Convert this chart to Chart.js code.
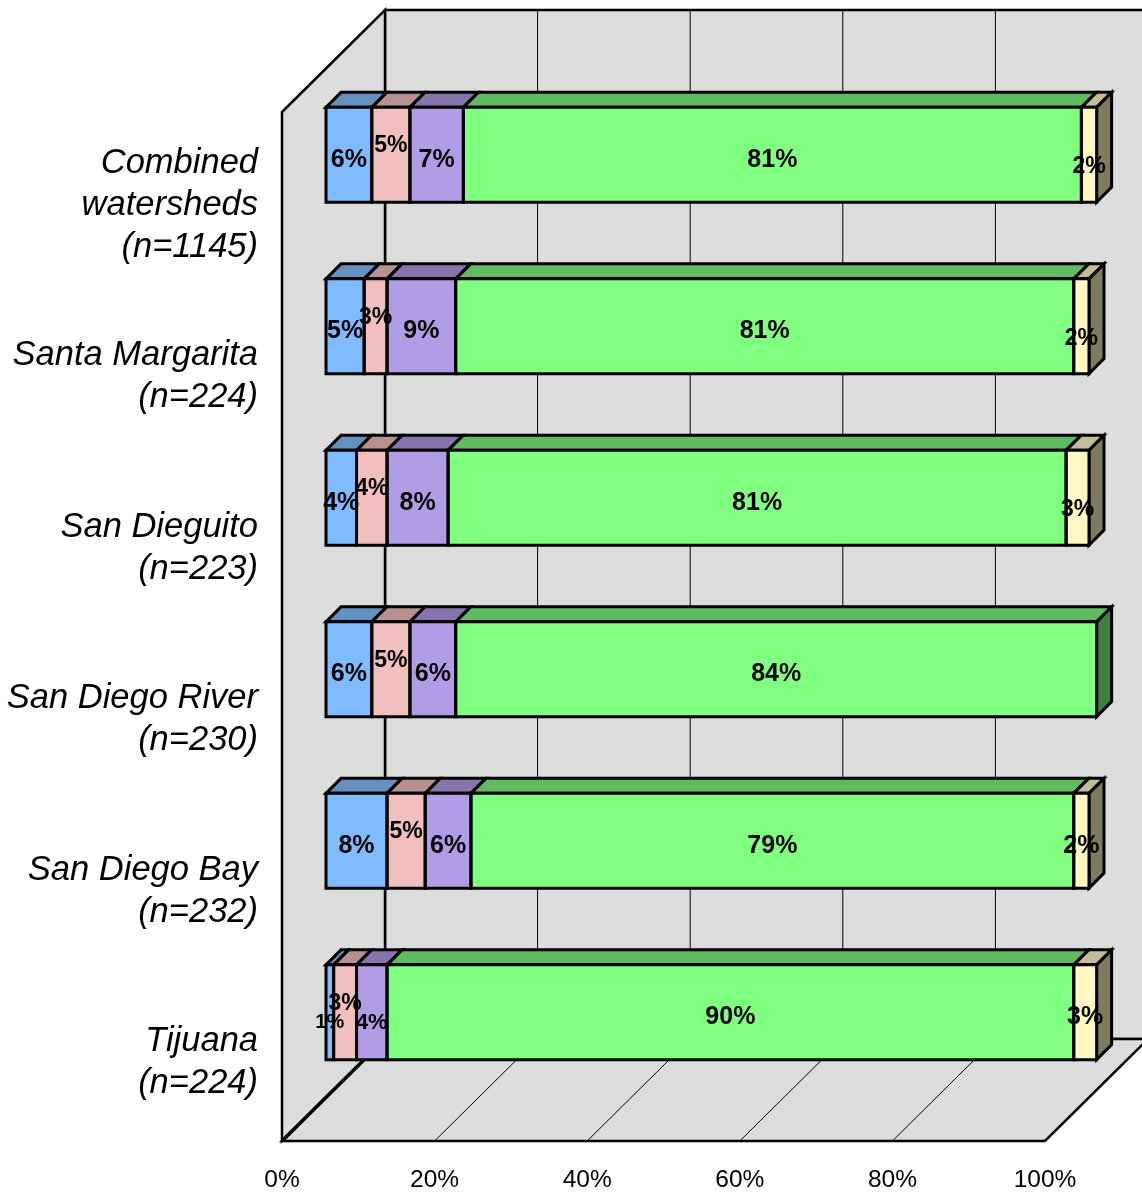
<!DOCTYPE html>
<html>
<head>
<meta charset="utf-8">
<style>
  body { margin: 0; background: #fff; }
</style>
<script src="https://cdn.jsdelivr.net/npm/chart.js@4"></script>
</head>
<body>
<canvas id="myChart" width="1142" height="1194"></canvas>
<script>
const categories = [
  ["Combined", "watersheds", "(n=1145)"],
  ["Santa Margarita", "(n=224)"],
  ["San Dieguito", "(n=223)"],
  ["San Diego River", "(n=230)"],
  ["San Diego Bay", "(n=232)"],
  ["Tijuana", "(n=224)"]
];
const seriesA = [6, 5, 4, 6, 8, 1];
const seriesB = [5, 3, 4, 5, 5, 3];
const seriesC = [7, 9, 8, 6, 6, 4];
const seriesD = [81, 81, 81, 84, 79, 90];
const seriesE = [2, 2, 3, 0, 2, 3];

const frontColors = ["#80BBFF", "#F2BFBF", "#B39CE6", "#80FF80", "#FFF8C4"];
const topColors = ["#6491C0", "#B89090", "#8874AC", "#60BB60", "#C4BE98"];
const sideColors = ["#40608F", "#806060", "#5A4E73", "#408040", "#807A60"];

const FONT = '"Liberation Sans", Arial, sans-serif';
const WALL = "#DDDDDD";
// the chart area is the plane of the bars, the box around it sits further out
const FRONT_DX = -44, FRONT_DY = 43;
const BOX_DX = 103, BOX_DY = -102;
const BAR_DEPTH = 15;

let poly = (ctx, pts, fill, lineWidth) => {
  ctx.beginPath();
  pts.forEach((p, i) => (i ? ctx.lineTo(p[0], p[1]) : ctx.moveTo(p[0], p[1])));
  ctx.closePath();
  if (fill) {
    ctx.fillStyle = fill;
    ctx.fill();
  }
  if (lineWidth) {
    ctx.lineWidth = lineWidth;
    ctx.strokeStyle = "#000";
    ctx.lineJoin = "miter";
    ctx.stroke();
  }
};

let line = (ctx, x1, y1, x2, y2, lineWidth) => {
  ctx.beginPath();
  ctx.moveTo(x1, y1);
  ctx.lineTo(x2, y2);
  ctx.lineWidth = lineWidth;
  ctx.strokeStyle = "#000";
  ctx.stroke();
};

/* LABEL STYLE: narrow segments get a smaller font and move out of the way */
let labelStyle = (series, row, value) => {
  if (series === 1 && value <= 5) return { dy: -9, size: 23 };
  if (series === 0 && value <= 1) return { dy: 10.5, size: 20 };
  if (series === 2 && row === 5) return { dy: 10.5, size: 22 };
  if (series === 4 && row < 3) return { dy: 12, size: 23 };
  return { dy: 5, size: 25 };
};

const box3d = {
  id: "box3d",
  beforeDatasetsDraw(chart) {
    const ctx = chart.ctx;
    const a = chart.chartArea;
    const x = chart.scales.x;
    const left = a.left + FRONT_DX, right = a.right + FRONT_DX;
    const top = a.top + FRONT_DY, bottom = a.bottom + FRONT_DY;
    const ticks = x.ticks.map((t) => x.getPixelForValue(t.value) + FRONT_DX);

    ctx.save();
    /* PAREDES */
    poly(ctx, [[left + BOX_DX, top + BOX_DY], [right + BOX_DX, top + BOX_DY],
      [right + BOX_DX, bottom + BOX_DY], [left + BOX_DX, bottom + BOX_DY]], WALL, 2.5);
    poly(ctx, [[left, top], [left + BOX_DX, top + BOX_DY],
      [left + BOX_DX, bottom + BOX_DY], [left, bottom]], WALL, 2.5);
    poly(ctx, [[left, bottom], [left + BOX_DX, bottom + BOX_DY],
      [right + BOX_DX, bottom + BOX_DY], [right, bottom]], WALL, 2.5);
    /* GRID */
    ticks.forEach((px, i) => {
      if (i > 0 && i < ticks.length - 1) {
        line(ctx, px + BOX_DX, top + BOX_DY, px + BOX_DX, bottom + BOX_DY, 1);
        line(ctx, px, bottom, px + BOX_DX, bottom + BOX_DY, 1);
      }
    });
    line(ctx, left, bottom, left + BOX_DX, bottom + BOX_DY, 3.5);

    /* BAR TOPS AND SIDES */
    chart.data.labels.forEach((_, row) => {
      let last = null;
      chart.data.datasets.forEach((ds, s) => {
        const bar = chart.getDatasetMeta(s).data[row];
        if (!ds.data[row]) return;
        const barTop = bar.y - bar.height / 2;
        poly(ctx, [[bar.base, barTop], [bar.base + BAR_DEPTH, barTop - BAR_DEPTH],
          [bar.x + BAR_DEPTH, barTop - BAR_DEPTH], [bar.x, barTop]], topColors[s], 3);
        last = { bar, s, barTop };
      });
      const end = last.bar.x;
      poly(ctx, [[end, last.barTop], [end + BAR_DEPTH, last.barTop - BAR_DEPTH],
        [end + BAR_DEPTH, last.barTop + last.bar.height - BAR_DEPTH],
        [end, last.barTop + last.bar.height]], sideColors[last.s], 3);
    });
    ctx.restore();
  },
  afterDatasetsDraw(chart) {
    const ctx = chart.ctx;
    ctx.save();
    /* OUTLINES OF THE FRONT FACES */
    chart.data.datasets.forEach((ds, s) => {
      chart.getDatasetMeta(s).data.forEach((bar, row) => {
        if (!ds.data[row]) return;
        const barTop = bar.y - bar.height / 2;
        poly(ctx, [[bar.base, barTop], [bar.x, barTop],
          [bar.x, barTop + bar.height], [bar.base, barTop + bar.height]], null, 3);
      });
    });
    /* ETIQUETAS */
    ctx.fillStyle = "#000";
    ctx.textAlign = "center";
    ctx.textBaseline = "middle";
    chart.data.datasets.forEach((ds, s) => {
      chart.getDatasetMeta(s).data.forEach((bar, row) => {
        const value = ds.data[row];
        if (!value) return;
        const style = labelStyle(s, row, value);
        ctx.font = "bold " + style.size + "px " + FONT;
        ctx.fillText(value + "%", (bar.base + bar.x) / 2, bar.y + style.dy);
      });
    });
    ctx.restore();
  }
};

const ctx = document.getElementById("myChart");
const seriesValues = [seriesA, seriesB, seriesC, seriesD, seriesE];

const dataset = {
  labels: categories,
  datasets: seriesValues.map((values, i) => ({
    label: "Series " + (i + 1),
    data: values,
    backgroundColor: frontColors[i],
    borderWidth: 0,
    clip: false,
    categoryPercentage: 0.553,
    barPercentage: 1,
  })),
};

const config = {
  type: "bar",
  data: dataset,
  options: {
    indexAxis: "y",
    responsive: false,
    animation: false,
    layout: { padding: { top: 69, right: 53, bottom: 0, left: 0 } },
    plugins: { legend: { display: false }, tooltip: { enabled: false } },
    scales: {
      x: {
        stacked: true,
        min: 0,
        max: 100,
        afterFit: (scale) => {
          scale.height = 96;
          scale.paddingLeft = 0;
          scale.paddingRight = 0;
        },
        grid: { display: false, drawTicks: false },
        border: { display: false },
        ticks: {
          stepSize: 20,
          maxRotation: 0,
          padding: 68,
          labelOffset: FRONT_DX,
          color: "#000",
          font: { family: FONT, size: 24.5 },
          callback: (v) => v + "%",
        },
      },
      y: {
        stacked: true,
        afterFit: (scale) => {
          scale.width = 326;
          scale.paddingTop = 0;
          scale.paddingBottom = 0;
        },
        grid: { display: false, drawTicks: false },
        border: { display: false },
        ticks: {
          padding: 68,
          labelOffset: 50.5,
          color: "#000",
          font: { family: FONT, size: 34.5, style: "italic", lineHeight: 42 / 34.5 },
        },
      },
    },
  },
  plugins: [box3d],
};
const chart = new Chart(ctx, config);
</script>
</body>
</html>
